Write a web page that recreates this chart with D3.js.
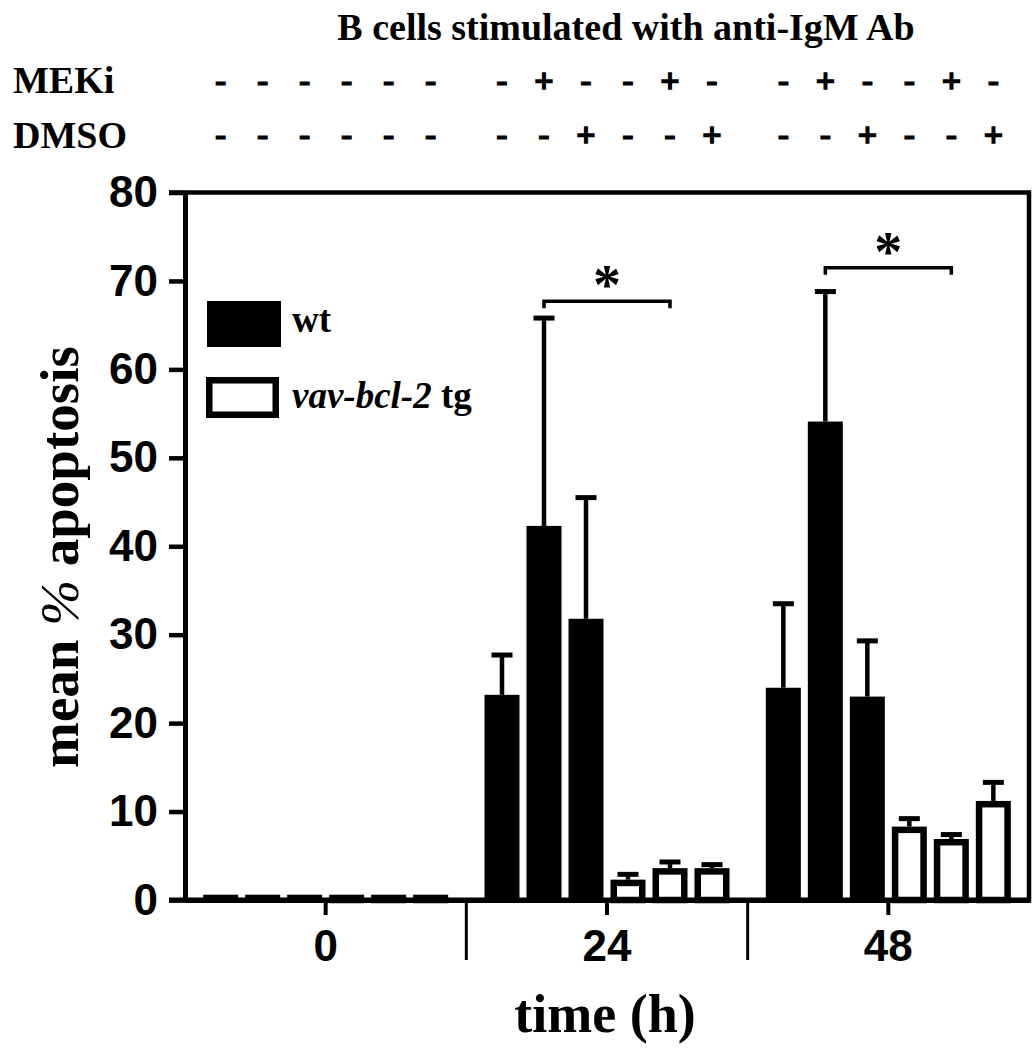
<!DOCTYPE html>
<html>
<head>
<meta charset="utf-8">
<script src="https://cdn.jsdelivr.net/npm/d3@7"></script>
<style>
  html, body { margin: 0; padding: 0; background: #fff; }
  svg { display: block; }
</style>
</head>
<body>
<svg id="chart" width="1034" height="1050"></svg>
<script>
// ---------------- data ----------------
const titleText = "B cells stimulated with anti-IgM Ab";
const timepoints = ["0", "24", "48"];
const genotypes = ["wt", "tg"];
const treatments = ["none", "MEKi", "DMSO"];
const legendLabels = ["wt", "vav-bcl-2 tg"];
const yTicks = [0, 10, 20, 30, 40, 50, 60, 70, 80];

// mean % apoptosis, rows = timepoints, cols = treatments (none, MEKi, DMSO)
const wtMean = [[0.6, 0.6, 0.6], [23.2, 42.3, 31.8], [24.0, 54.1, 23.0]];
const wtErr  = [[0, 0, 0], [4.5, 23.5, 13.7], [9.5, 14.7, 6.3]];
const tgMean = [[0.6, 0.6, 0.6], [2.3, 3.6, 3.6], [8.3, 6.9, 11.2]];
const tgErr  = [[0, 0, 0], [0.6, 0.7, 0.4], [0.9, 0.5, 2.1]];

// treatment row signs per timepoint (6 bars: wt none/MEKi/DMSO, tg none/MEKi/DMSO)
const mekiSigns = [["-","-","-","-","-","-"], ["-","+","-","-","+","-"], ["-","+","-","-","+","-"]];
const dmsoSigns = [["-","-","-","-","-","-"], ["-","-","+","-","-","+"], ["-","-","+","-","-","+"]];

// significance brackets: timepoint, bar index from/to, level in data units
const sigTime  = ["24", "48"];
const sigFrom  = [1, 1];
const sigTo    = [4, 4];
const sigLevel = [67.7, 71.5];
const sigLabel = ["*", "*"];

// ---------------- layout ----------------
const svg = d3.select("#chart");
const X0 = 185, X1 = 1029, Y0 = 900, Y80 = 192.5;
const serif = "'Liberation Serif', 'Times New Roman', serif";
const sans = "'Liberation Sans', Arial, sans-serif";

const y = d3.scaleLinear().domain([0, 80]).range([Y0, Y80]);
const x0 = d3.scaleBand().domain(timepoints).range([X0, X1]).paddingInner(0).paddingOuter(0);
const barKeys = d3.range(6);
const inner = 245;
const x1 = d3.scaleBand().domain(barKeys)
  .range([(x0.bandwidth() - inner) / 2, (x0.bandwidth() + inner) / 2])
  .paddingInner(7 / 42).paddingOuter(0);
const bw = x1.bandwidth();

// flatten bars
const bars = [];
timepoints.forEach((tp, ti) => {
  genotypes.forEach((g, gi) => {
    treatments.forEach((tr, ri) => {
      const idx = gi * 3 + ri;
      const mean = g === "wt" ? wtMean[ti][ri] : tgMean[ti][ri];
      const err = g === "wt" ? wtErr[ti][ri] : tgErr[ti][ri];
      bars.push({tp, ti, g, tr, idx, mean, err});
    });
  });
});
const bx = d => x0(d.tp) + x1(d.idx);
const cx = d => bx(d) + bw / 2;

// ---------------- bars ----------------
const sw = 6.5;
const gBars = svg.append("g");
gBars.selectAll("rect.wt").data(bars.filter(d => d.g === "wt")).join("rect")
  .attr("class", "wt")
  .attr("x", bx).attr("width", bw)
  .attr("y", d => y(d.mean)).attr("height", d => y(0) - y(d.mean))
  .attr("fill", "#000");
gBars.selectAll("rect.tg").data(bars.filter(d => d.g === "tg")).join("rect")
  .attr("class", "tg")
  .attr("x", d => bx(d) + sw / 2).attr("width", bw - sw)
  .attr("y", d => Math.min(y(d.mean) + sw / 2, y(0) - 1))
  .attr("height", d => Math.max(1, y(0) - (y(d.mean) + sw / 2)))
  .attr("fill", "#fff").attr("stroke", "#000").attr("stroke-width", sw);

// ---------------- error bars ----------------
const eb = bars.filter(d => d.err > 0);
const gErr = svg.append("g").attr("stroke", "#000").attr("stroke-width", 4.5);
gErr.selectAll("line.v").data(eb).join("line")
  .attr("x1", cx).attr("x2", cx)
  .attr("y1", d => y(d.mean)).attr("y2", d => y(d.mean + d.err));
gErr.selectAll("line.c").data(eb).join("line")
  .attr("x1", d => cx(d) - 10.5).attr("x2", d => cx(d) + 10.5)
  .attr("y1", d => y(d.mean + d.err)).attr("y2", d => y(d.mean + d.err))
  .attr("stroke-width", 5);

// ---------------- axes ----------------
const yAxis = d3.axisLeft(y).tickValues(yTicks).tickSize(16).tickSizeOuter(0).tickPadding(11);
const gy = svg.append("g").attr("transform", `translate(${X0},0)`).call(yAxis);
gy.select(".domain").attr("stroke-width", 5);
gy.selectAll(".tick line").attr("stroke-width", 4.5);
gy.selectAll(".tick text").attr("font-family", sans).attr("font-weight", "bold")
  .attr("font-size", 44).attr("fill", "#000");

const xAxis = d3.axisBottom(x0).tickSize(15).tickSizeOuter(0).tickPadding(15);
const gx = svg.append("g").attr("transform", `translate(0,${Y0})`).call(xAxis);
gx.select(".domain").attr("stroke-width", 5);
gx.selectAll(".tick line").attr("stroke-width", 4);
gx.selectAll(".tick text").attr("font-family", sans).attr("font-weight", "bold")
  .attr("font-size", 44).attr("fill", "#000");

// group separators
svg.append("g").selectAll("line").data(timepoints.slice(0, -1)).join("line")
  .attr("x1", d => x0(d) + x0.bandwidth()).attr("x2", d => x0(d) + x0.bandwidth())
  .attr("y1", Y0).attr("y2", Y0 + 60)
  .attr("stroke", "#000").attr("stroke-width", 3);

// frame (top and right)
svg.append("path")
  .attr("d", `M${X0 - 16},${Y80}H${X1}V${Y0 + 2.5}`)
  .attr("fill", "none").attr("stroke", "#000").attr("stroke-width", 4.5);
svg.append("line").attr("x1", X0 - 16).attr("x2", X1 + 2).attr("y1", Y0).attr("y2", Y0)
  .attr("stroke", "#000").attr("stroke-width", 5);

// ---------------- significance ----------------
const sig = sigTime.map((t, i) => ({t, from: sigFrom[i], to: sigTo[i], level: sigLevel[i], label: sigLabel[i]}));
const gSig = svg.append("g");
gSig.selectAll("path").data(sig).join("path")
  .attr("d", d => {
    const xa = x0(d.t) + x1(d.from) + bw / 2, xb = x0(d.t) + x1(d.to) + bw / 2, yy = y(d.level);
    return `M${xa},${yy + 7}V${yy}H${xb}V${yy + 7}`;
  })
  .attr("fill", "none").attr("stroke", "#000").attr("stroke-width", 3.5);
gSig.selectAll("text").data(sig).join("text")
  .attr("x", d => x0(d.t) + (x1(d.from) + x1(d.to) + bw) / 2)
  .attr("y", d => y(d.level) + 3)
  .attr("text-anchor", "middle")
  .attr("font-family", serif).attr("font-weight", "bold").attr("font-size", 56)
  .text(d => d.label);

// ---------------- header ----------------
svg.append("text").attr("x", 626).attr("y", 40).attr("text-anchor", "middle")
  .attr("font-family", serif).attr("font-weight", "bold").attr("font-size", 38)
  .text(titleText);
svg.append("text").attr("x", 13).attr("y", 93)
  .attr("font-family", serif).attr("font-weight", "bold").attr("font-size", 38).text("MEKi");
svg.append("text").attr("x", 13).attr("y", 148)
  .attr("font-family", serif).attr("font-weight", "bold").attr("font-size", 38).text("DMSO");

const signData = [];
timepoints.forEach((tp, ti) => {
  barKeys.forEach(k => {
    signData.push({tp, k, s: mekiSigns[ti][k], row: 0});
    signData.push({tp, k, s: dmsoSigns[ti][k], row: 1});
  });
});
svg.append("g").selectAll("text").data(signData).join("text")
  .attr("x", d => x0(d.tp) + x1(d.k) + bw / 2)
  .attr("y", d => d.row === 0 ? 92 : 146)
  .attr("text-anchor", "middle")
  .attr("font-family", serif).attr("font-weight", "bold").attr("font-size", 34)
  .attr("stroke", "#000").attr("stroke-width", d => d.s === "+" ? 1.6 : 1.2)
  .text(d => d.s);

// ---------------- legend ----------------
const gLeg = svg.append("g");
gLeg.append("rect").attr("x", 207).attr("y", 301).attr("width", 74).attr("height", 46).attr("fill", "#000");
gLeg.append("rect").attr("x", 206 + sw / 2).attr("y", 377 + sw / 2)
  .attr("width", 73 - sw).attr("height", 41 - sw)
  .attr("fill", "#fff").attr("stroke", "#000").attr("stroke-width", sw);
gLeg.append("text").attr("x", 292).attr("y", 332)
  .attr("font-family", serif).attr("font-weight", "bold").attr("font-size", 37).text(legendLabels[0]);
const t2 = gLeg.append("text").attr("x", 292).attr("y", 408)
  .attr("font-family", serif).attr("font-weight", "bold").attr("font-size", 37);
t2.append("tspan").attr("font-style", "italic").text("vav-bcl-2");
t2.append("tspan").text(" tg");

// ---------------- axis titles ----------------
const yl = svg.append("text")
  .attr("transform", "translate(78,557) rotate(-90)")
  .attr("text-anchor", "middle")
  .attr("font-family", serif).attr("font-weight", "bold").attr("font-size", 55);
yl.append("tspan").text("mean ");
yl.append("tspan").attr("font-style", "italic").attr("font-weight", "normal").text("%");
yl.append("tspan").text(" apoptosis");

svg.append("text").attr("x", 605).attr("y", 1032).attr("text-anchor", "middle")
  .attr("font-family", serif).attr("font-weight", "bold").attr("font-size", 54)
  .text("time (h)");
</script>
</body>
</html>
